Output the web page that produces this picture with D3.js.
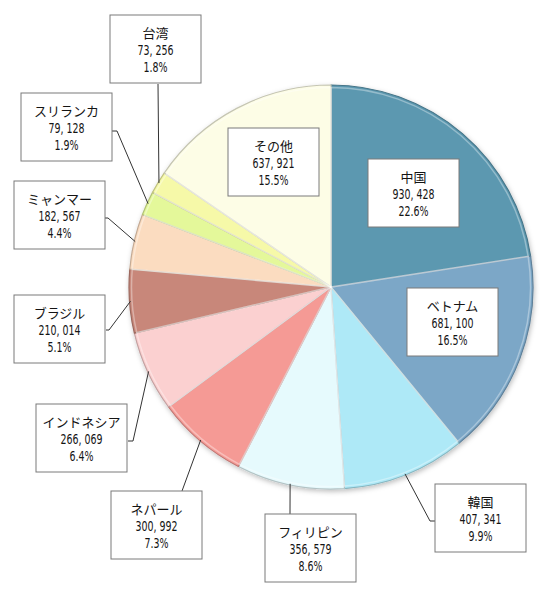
<!DOCTYPE html>
<html>
<head>
<meta charset="utf-8">
<script src="https://cdn.jsdelivr.net/npm/d3@7"></script>
<style>
  body { margin: 0; background: #fff; }
  text { fill: #141414; }
  .name { font-family: "Noto Sans CJK JP", sans-serif; font-size: 13px; }
  .num { font-family: "DejaVu Sans Condensed", "DejaVu Sans", sans-serif; font-size: 13.5px; }
</style>
</head>
<body>
<svg id="chart"></svg>
<script>
const countries = ["中国", "ベトナム", "韓国", "フィリピン", "ネパール", "インドネシア", "ブラジル", "ミャンマー", "スリランカ", "台湾", "その他"];
const counts = [930428, 681100, 407341, 356579, 300992, 266069, 210014, 182567, 79128, 73256, 637921];
const shares = ["22.6%", "16.5%", "9.9%", "8.6%", "7.3%", "6.4%", "5.1%", "4.4%", "1.9%", "1.8%", "15.5%"];
const colors = ["#5b98b0", "#7ba7c7", "#aee9f7", "#e6fafd", "#f59a95", "#fbd0d0", "#c8877a", "#fbdcc0", "#e4f89a", "#f6f9a8", "#fdfde6"];

// label box top-left corners, and where the leader leaves the box (null = label sits on the slice)
const boxes = [
  { x: 368, y: 159, lead: null },
  { x: 407, y: 288, lead: null },
  { x: 435, y: 484, lead: [[435, 521], [430, 521]] },
  { x: 265, y: 514, lead: [[290, 514]] },
  { x: 111, y: 491, lead: [[182, 491]] },
  { x: 36, y: 404, lead: [[128, 441], [133, 441]] },
  { x: 14, y: 295, lead: [[106, 330], [109, 330]] },
  { x: 14, y: 181, lead: [[103, 218], [108, 218]] },
  { x: 21, y: 93, lead: [[112, 131], [117, 131]] },
  { x: 110, y: 15, lead: [[158, 84]] },
  { x: 228, y: 128, lead: null }
];

const width = 550, height = 597;
const cx = 331, cy = 287, radius = 202;
const boxW = 91, boxH = 68;

const svg = d3.select("#chart").attr("width", width).attr("height", height);

const defs = svg.append("defs");
defs.append("filter").attr("id", "shadow")
  .attr("x", "-10%").attr("y", "-10%").attr("width", "120%").attr("height", "120%")
  .append("feDropShadow")
  .attr("dx", 1).attr("dy", 2).attr("stdDeviation", 2.5)
  .attr("flood-color", "#000").attr("flood-opacity", 0.25);

const data = countries.map((c, i) => ({ name: c, value: counts[i], share: shares[i], color: colors[i], box: boxes[i] }));

const pie = d3.pie().value(d => d.value).sort(null);
const arcs = pie(data);
const arc = d3.arc().innerRadius(0).outerRadius(radius);
const edge = d3.arc().innerRadius(radius - 1).outerRadius(radius - 1);

const g = svg.append("g").attr("transform", `translate(${cx},${cy})`);

g.append("g").attr("filter", "url(#shadow)")
  .selectAll("path")
  .data(arcs)
  .join("path")
  .attr("d", arc)
  .attr("fill", d => d.data.color)
  .attr("stroke", d => d3.color(d.data.color).darker(0.7))
  .attr("stroke-width", 1.2)
  .attr("stroke-linejoin", "round");

// soft bevel highlight along each slice edge
g.append("g")
  .selectAll("path")
  .data(arcs)
  .join("path")
  .attr("d", d3.arc().innerRadius(0).outerRadius(radius - 2.5))
  .attr("fill", "none")
  .attr("stroke", "#fff")
  .attr("stroke-opacity", 0.35)
  .attr("stroke-width", 1.5);

// leader lines
svg.append("g")
  .selectAll("path")
  .data(arcs.filter(d => d.data.box.lead))
  .join("path")
  .attr("fill", "none")
  .attr("stroke", "#333")
  .attr("stroke-width", 1)
  .attr("d", d => {
    const [ex, ey] = edge.centroid(d);
    return d3.line()([...d.data.box.lead, [cx + ex, cy + ey]]);
  });

const fmt = d3.format(",");

const labels = svg.append("g")
  .selectAll("g")
  .data(data)
  .join("g")
  .attr("transform", d => `translate(${d.box.x},${d.box.y})`);

labels.append("rect")
  .attr("width", boxW)
  .attr("height", boxH)
  .attr("fill", "#fff")
  .attr("stroke", "#7a7a7a")
  .attr("stroke-width", 1);

labels.append("text")
  .attr("class", "name")
  .attr("x", boxW / 2)
  .attr("y", 23)
  .attr("text-anchor", "middle")
  .text(d => d.name);

// numbers are drawn narrower, like the condensed digits of the original
labels.append("text")
  .attr("class", "num")
  .attr("transform", `translate(${boxW / 2},40) scale(0.78,1)`)
  .attr("text-anchor", "middle")
  .text(d => fmt(d.value).replace(",", ", "));

labels.append("text")
  .attr("class", "num")
  .attr("transform", `translate(${boxW / 2},57) scale(0.78,1)`)
  .attr("text-anchor", "middle")
  .text(d => d.share);
</script>
</body>
</html>
